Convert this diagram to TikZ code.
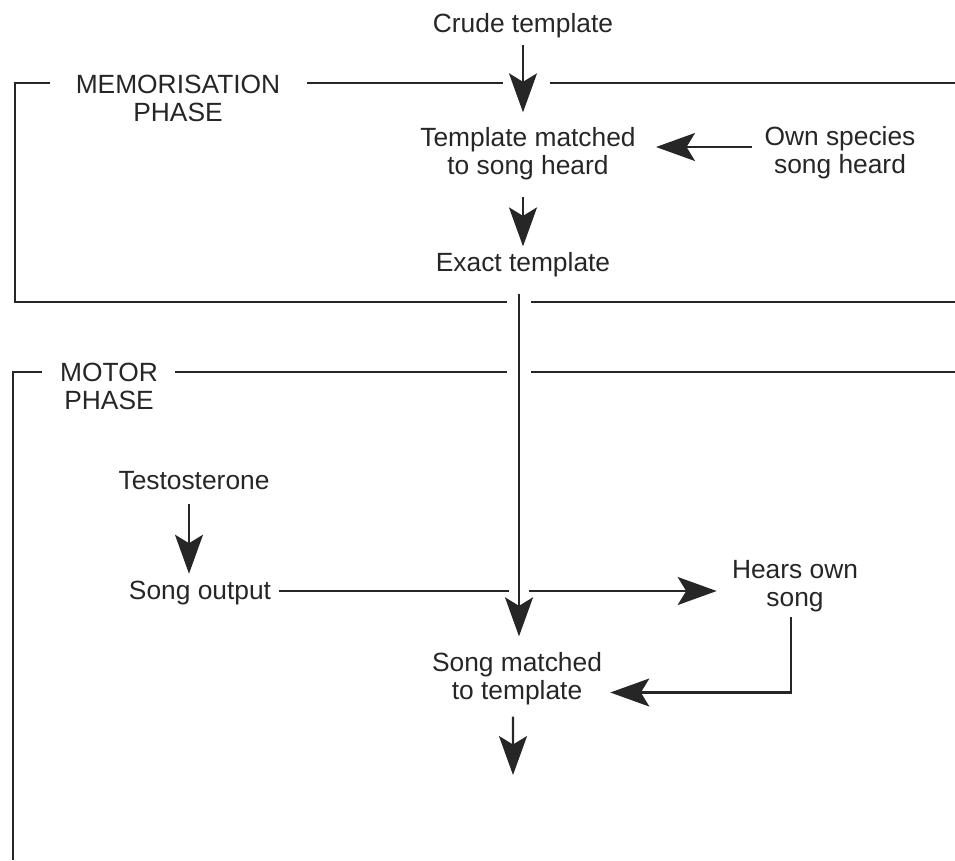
\documentclass[tikz,border=0pt]{standalone}
\usepackage{fontspec}
\setmainfont{Liberation Sans}
\usetikzlibrary{arrows.meta}
\begin{document}
\begin{tikzpicture}[x=0.02cm,y=-0.02cm,
  lbl/.style={inner sep=0pt, align=center, font=\fontsize{15}{16}\selectfont, text=black!85},
  arr/.style={draw=black!85, line width=1.2pt, -{Stealth[length=0.78cm,width=0.56cm,inset=0.17cm]}},
  frm/.style={draw=black!85, line width=1.3pt}]
\useasboundingbox (0,0) rectangle (955,860);
% labels
\node[lbl] (crude) at (523,26) {Crude template};
\node[lbl] (tmatch) at (528,154) {Template matched\\to song heard};
\node[lbl] (own) at (840,153) {Own species\\song heard};
\node[lbl] (exact) at (523,265) {Exact template};
\node[lbl] (memo) at (178,98) {MEMORISATION\\PHASE};
\node[lbl] (motor) at (109,386) {MOTOR\\PHASE};
\node[lbl] (testo) at (194,481) {Testosterone};
\node[lbl] (songout) at (200,593) {Song output};
\node[lbl] (hears) at (795,586) {Hears own\\song};
\node[lbl] (smatch) at (517,679) {Song matched\\to template};
% frames
\draw[frm] (50,83) -- (15,83) -- (15,302) -- (507,302);
\draw[frm] (531,302) -- (955,302);
\draw[frm] (307,83) -- (503,83);
\draw[frm] (550,83) -- (955,83);
\draw[frm] (42,372) -- (13,372) -- (13,860);
\draw[frm] (175,372) -- (507,372);
\draw[frm] (531,372) -- (955,372);
% helper coordinates
\coordinate (ownarr) at ([yshift=0.12cm]own.west);
\coordinate (vx) at ([xshift=-0.08cm]exact.south);
\coordinate (tx) at ([xshift=-0.1cm]testo.south);
\coordinate (soarr) at ([yshift=0.04cm]songout.east);
\coordinate (hx) at ([xshift=-0.08cm]hears.south);
\coordinate (smarr) at ([yshift=-0.27cm]smatch.east);
\coordinate (sx) at ([xshift=-0.08cm]smatch.south);
\coordinate (out) at (513,775);
% connectors
\draw[arr, shorten <=0.12cm, shorten >=0.3cm] (crude.south) -- (crude.south |- tmatch.north);
\draw[arr, shorten <=0.32cm, shorten >=0.12cm] (exact.north |- tmatch.south) -- (exact.north);
\draw[arr, shorten <=0.24cm, shorten >=0.4cm] (ownarr) -- (ownarr -| tmatch.east);
\draw[arr, shorten <=0.26cm, shorten >=0.14cm] (tx) -- (tx |- songout.north);
\draw[arr, shorten <=0.16cm, shorten >=0.3cm] (soarr) -- (soarr -| hears.west);
\path[draw=white, line width=0.4cm] (vx |- soarr) ++(0,-5) -- ++(0,10);
\draw[arr, shorten <=0.32cm, shorten >=0.32cm] (vx) -- (vx |- smatch.north);
\draw[arr, shorten <=0.1cm, shorten >=0.16cm] (hx) -- (hx |- smarr) -- (smarr);
\draw[arr, shorten <=0.22cm] (sx) -- (out);
\end{tikzpicture}
\end{document}
